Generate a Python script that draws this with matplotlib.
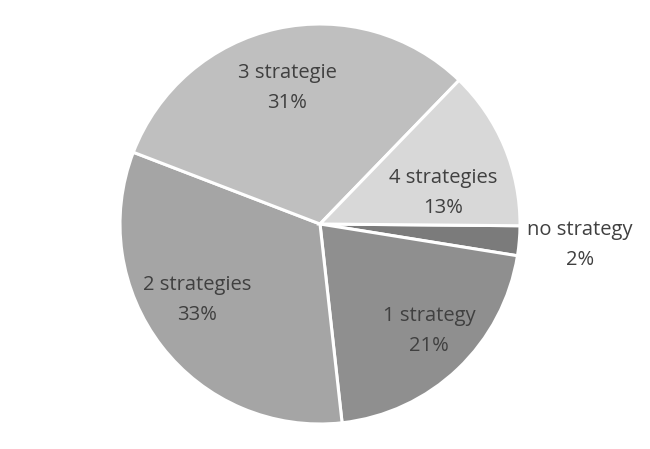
import matplotlib
matplotlib.use("Agg")
import matplotlib.pyplot as plt

categories = ["no strategy", "1 strategy", "2 strategies", "3 strategie", "4 strategies"]
values = [2.4, 20.7, 32.6, 31.4, 12.9]
colors = ["#7b7b7b", "#8f8f8f", "#a5a5a5", "#bfbfbf", "#d8d8d8"]

# label centre positions in units of pie radius
label_pos = [(1.30, -0.105), (0.545, -0.535), (-0.615, -0.38), (-0.165, 0.68), (0.615, 0.155)]

plt.rcParams['font.family'] = ['Open Sans', 'DejaVu Sans']

fig = plt.figure(figsize=(6.5, 4.49), dpi=100)
ax = fig.add_axes([120/650, 25/449, 400/650, 400/449])
wedges, _ = ax.pie(values, colors=colors, startangle=-0.5, counterclock=False,
                   radius=1.0, wedgeprops=dict(edgecolor="white", linewidth=2.2))
total = sum(values)
for cat, v, (x, y) in zip(categories, values, label_pos):
    ax.text(x, y, f"{cat}\n{round(v/total*100):.0f}%", ha="center", va="center",
            fontsize=14.5, color="#404040", linespacing=1.65)
ax.set_xlim(-1, 1)
ax.set_ylim(-1, 1)
ax.set_aspect("equal")
ax.axis("off")
fig.savefig("out.png", dpi=100)
